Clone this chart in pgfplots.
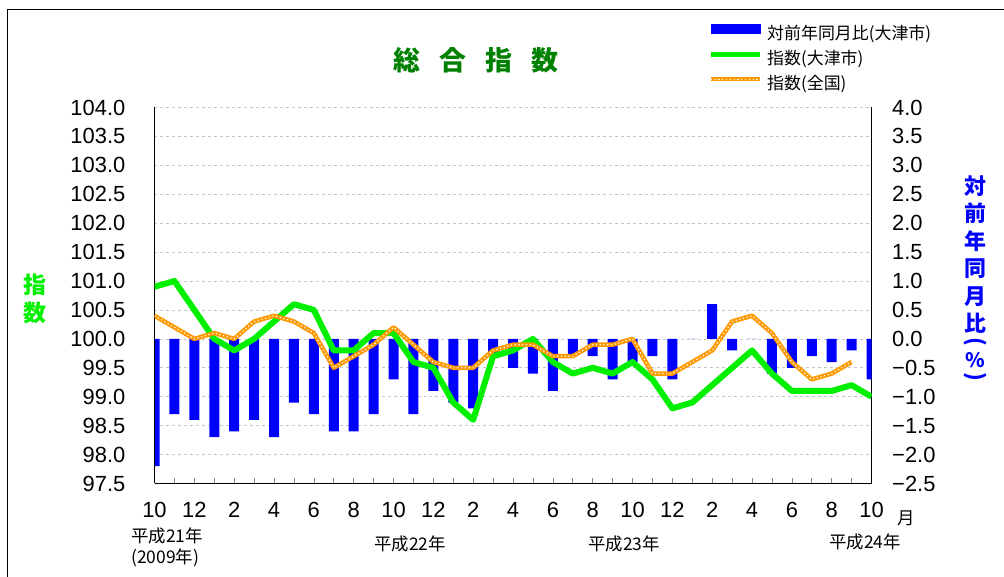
\documentclass[border=0pt]{standalone}
\usepackage{pgfplots}
\pgfplotsset{compat=1.18}
\usepackage{fontspec}
\setmainfont{Liberation Sans}
\newfontfamily\cjk{Noto Sans CJK JP}
\definecolor{barblue}{RGB}{0,0,255}
\definecolor{lgreen}{RGB}{0,240,0}
\definecolor{dgreen}{RGB}{0,128,0}
\definecolor{orng}{RGB}{255,153,0}
\begin{document}
\begin{tikzpicture}[x=1bp,y=1bp]
\useasboundingbox (0,0) rectangle (1004,577);
\draw[black, line width=0.8bp] (7.3,0) -- (7.3,567.7) -- (1004,567.7);

% ---------- bars (right axis) ----------
\begin{axis}[
  at={(154.5bp,93.5bp)}, anchor=south west,
  scale only axis, width=717bp, height=376bp,
  xmin=0, xmax=36, ymin=-2.5, ymax=4,
  axis x line*=bottom, axis y line*=right,
  axis line style={-, black, line width=1bp},
  xtick={0,2,4,6,8,10,12,14,16,18,20,22,24,26,28,30,32,34,36},
  minor xtick={1,3,5,7,9,11,13,15,17,19,21,23,25,27,29,31,33,35},
  xticklabels={10,12,2,4,6,8,10,12,2,4,6,8,10,12,2,4,6,8,10},
  tick align=inside,
  major tick length=5bp, minor tick length=5bp,
  xtick style={gray, line width=0.6bp},
  every minor tick/.append style={gray, line width=0.6bp},
  ytick={-2.5,-2,-1.5,-1,-0.5,0,0.5,1,1.5,2,2.5,3,3.5,4},
  yticklabels={−2.5,−2.0,−1.5,−1.0,−0.5,0.0,0.5,1.0,1.5,2.0,2.5,3.0,3.5,4.0},
  ytick style={draw=none},
  ymajorgrids, grid style={gray!45, dashed, line width=0.6bp},
  tick label style={font=\fontsize{22}{22}\selectfont},
  xticklabel style={anchor=north, inner sep=0pt, yshift=-19bp},
  yticklabel style={anchor=west, inner sep=0pt, xshift=20.5bp},
]
\addplot[ybar, bar width=10bp, fill=barblue, draw=none] coordinates {
(0,-2.2) (1,-1.3) (2,-1.4) (3,-1.7) (4,-1.6) (5,-1.4) (6,-1.7) (7,-1.1) (8,-1.3)
(9,-1.6) (10,-1.6) (11,-1.3) (12,-0.7) (13,-1.3) (14,-0.9) (15,-1.1) (16,-1.2)
(17,-0.3) (18,-0.5) (19,-0.6) (20,-0.9) (21,-0.3) (22,-0.3) (23,-0.7) (24,-0.4)
(25,-0.3) (26,-0.7) (27,0) (28,0.6) (29,-0.2) (30,0) (31,-0.6) (32,-0.5)
(33,-0.3) (34,-0.4) (35,-0.2) (36,-0.7)
};
\end{axis}

% ---------- index lines (left axis) ----------
\begin{axis}[
  at={(154.5bp,93.5bp)}, anchor=south west,
  scale only axis, width=717bp, height=376bp,
  xmin=0, xmax=36, ymin=97.5, ymax=104,
  axis x line=none, axis y line*=left,
  axis line style={-, black, line width=1bp},
  ytick={97.5,98,98.5,99,99.5,100,100.5,101,101.5,102,102.5,103,103.5,104},
  yticklabels={97.5,98.0,98.5,99.0,99.5,100.0,100.5,101.0,101.5,102.0,102.5,103.0,103.5,104.0},
  ytick style={draw=none},
  tick label style={font=\fontsize{22}{22}\selectfont},
  yticklabel style={anchor=east, inner sep=0pt, xshift=-29bp},
  legend cell align=left,
  legend style={at={(0.772,1.2215)}, anchor=north west, draw=none, fill=none,
    inner sep=0pt, row sep=8bp, column sep=5bp,
    font=\cjk\fontsize{17}{17}\selectfont,
    nodes={inner sep=0pt, text height=13bp, text depth=4bp}},
]
\addlegendimage{legend image code/.code={\fill[barblue] (0bp,1.5bp) rectangle (49bp,10.5bp);}}
\addlegendentry{対前年同月比(大津市)}
\addplot[lgreen, line width=6bp, line join=round,
  legend image code/.code={\draw[lgreen, line width=5bp] (0bp,6bp) -- (49bp,6bp);}] coordinates {
(0,100.9) (1,101.0) (2,100.5) (3,100.0) (4,99.8) (5,100.0) (6,100.3) (7,100.6)
(8,100.5) (9,99.8) (10,99.8) (11,100.1) (12,100.1) (13,99.6) (14,99.5) (15,98.9)
(16,98.6) (17,99.7) (18,99.8) (19,100.0) (20,99.6) (21,99.4) (22,99.5) (23,99.4)
(24,99.6) (25,99.3) (26,98.8) (27,98.9) (28,99.2) (29,99.5) (30,99.8) (31,99.4)
(32,99.1) (33,99.1) (34,99.1) (35,99.2) (36,99.0)
};
\addlegendentry{指数(大津市)}
\addplot[orng, line width=4.5bp, line join=round,
  postaction={draw, white, line width=1.2bp, dash pattern=on 1.2bp off 2.6bp},
  legend image code/.code={\draw[orng, line width=4.5bp] (0bp,6bp) -- (49bp,6bp);
     \draw[white, line width=1.2bp, dash pattern=on 1.2bp off 2.6bp] (0bp,6bp) -- (49bp,6bp);}] coordinates {
(0,100.4) (1,100.2) (2,100.0) (3,100.1) (4,100.0) (5,100.3) (6,100.4) (7,100.3)
(8,100.1) (9,99.5) (10,99.7) (11,99.9) (12,100.2) (13,99.9) (14,99.6) (15,99.5)
(16,99.5) (17,99.8) (18,99.9) (19,99.9) (20,99.7) (21,99.7) (22,99.9) (23,99.9)
(24,100.0) (25,99.4) (26,99.4) (27,99.6) (28,99.8) (29,100.3) (30,100.4) (31,100.1)
(32,99.6) (33,99.3) (34,99.4) (35,99.6)
};
\addlegendentry{指数(全国)}
\end{axis}

% ---------- titles and labels ----------
\node[text=dgreen, font=\cjk\bfseries\fontsize{27}{27}\selectfont] at (476,517)
  {総\hspace{19bp}合\hspace{19bp}指\hspace{19bp}数};
\node[text=lgreen, align=center, font=\cjk\bfseries\fontsize{23}{28}\selectfont] at (35,278) {指\\数};
\node[text=barblue, align=center, font=\cjk\bfseries\fontsize{22}{27.5}\selectfont] at (975,322.5)
  {対\\前\\年\\同\\月\\比};
\node[text=barblue, rotate=-90, font=\cjk\bfseries\fontsize{22}{22}\selectfont] at (975,235) {(};
\node[text=barblue, font=\cjk\bfseries\fontsize{20}{20}\selectfont] at (975,217) {\%};
\node[text=barblue, rotate=-90, font=\cjk\bfseries\fontsize{22}{22}\selectfont] at (975,200) {)};

\begin{scope}[font=\cjk\fontsize{17.5}{17.5}\selectfont]
\node[anchor=west, inner sep=0pt] at (131,41) {平成21年};
\node[anchor=west, inner sep=0pt] at (131,19) {(2009年)};
\node at (410,33) {平成22年};
\node at (624,33) {平成23年};
\node at (865,35) {平成24年};
\node at (906,59) {月};
\end{scope}
\end{tikzpicture}
\end{document}
